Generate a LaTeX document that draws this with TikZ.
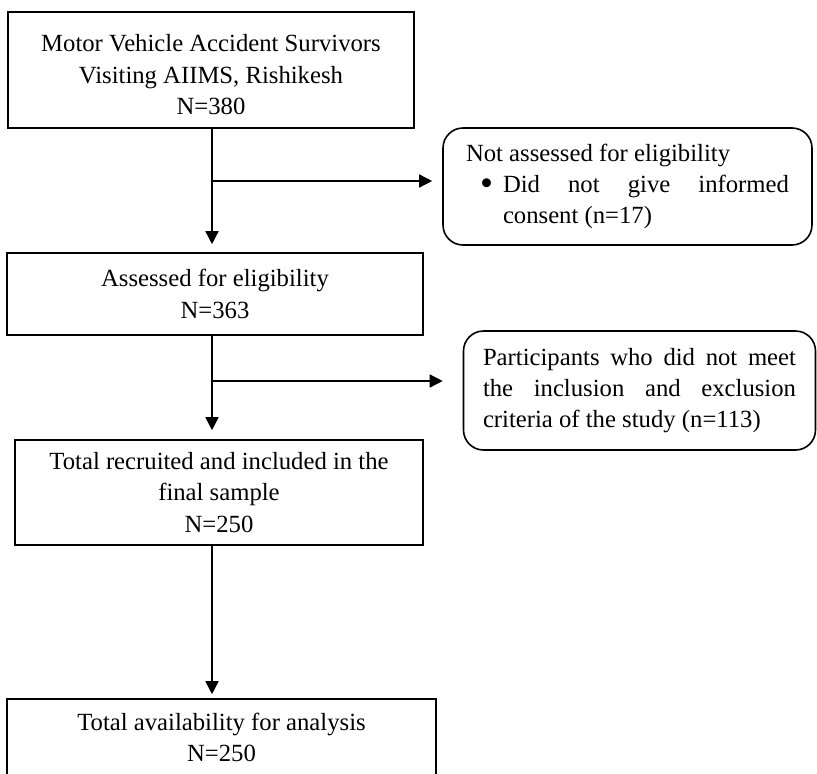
\documentclass[tikz,border=0pt]{standalone}
\usepackage{fontspec}
\setmainfont{Liberation Serif}
\usetikzlibrary{arrows.meta,calc}
\newcommand{\bigbul}{\raisebox{-0.12em}{\scalebox{1.5}{\textbullet}}}
\begin{document}
\begin{tikzpicture}[x=1pt,y=-1pt,
  box/.style={draw, line width=1.6pt, rectangle, inner sep=0pt, align=center, font=\fontsize{24.7}{31.5}\selectfont},
  rbox/.style={draw, line width=1.6pt, rounded corners=20pt, inner sep=0pt, align=justify, font=\fontsize{24.7}{31}\selectfont},
  arr/.style={line width=1.5pt, -{Triangle[length=13pt,width=13pt]}}]
\useasboundingbox (0,0) rectangle (817,774);
\clip (0,0) rectangle (817,774);

\node[box, minimum width=406pt, minimum height=116pt] (b1) at (211,70) {\rule{0pt}{27pt}Motor Vehicle Accident Survivors\\Visiting AIIMS, Rishikesh\\N=380};
\node[box, minimum width=416pt, minimum height=82pt] (b2) at (215,294) {Assessed for eligibility\\N=363};
\node[box, minimum width=408pt, minimum height=105pt] (b3) at (219,492.5) {Total recruited and included in the\\final sample\\N=250};
\node[box, minimum width=429pt, minimum height=77pt] (b4) at (221.5,737.5) {Total availability for analysis\\N=250};

\node[rbox, minimum width=369pt, minimum height=117pt, text width=323pt] (r1) at (627.5,186.5)
  {\parindent=0pt\hyphenpenalty=10000\exhyphenpenalty=10000\tolerance=10000\noindent Not assessed for eligibility\par
   \noindent\hangindent=37pt\hangafter=0\llap{\bigbul\hspace{10pt}}Did not give informed consent (n=17)\par};
\node[rbox, minimum width=352pt, minimum height=119pt, text width=313pt] (r2) at (639.5,390.5)
  {\parindent=0pt\hyphenpenalty=10000\exhyphenpenalty=10000\tolerance=10000\noindent Participants who did not meet the inclusion and exclusion criteria of the study (n=113)\par};

\coordinate (vx) at (212,0);
\coordinate (j1) at (212,181);
\coordinate (j2) at (212,381);
\draw[arr, shorten >=8pt] (vx |- b1.south) -- (vx |- b2.north);
\draw[arr, shorten >=10pt] (j1) -- (j1 -| r1.west);
\draw[arr, shorten >=9pt] (vx |- b2.south) -- (vx |- b3.north);
\draw[arr, shorten >=20pt] (j2) -- (j2 -| r2.west);
\draw[arr, shorten >=4pt] (vx |- b3.south) -- (vx |- b4.north);
\end{tikzpicture}
\end{document}
